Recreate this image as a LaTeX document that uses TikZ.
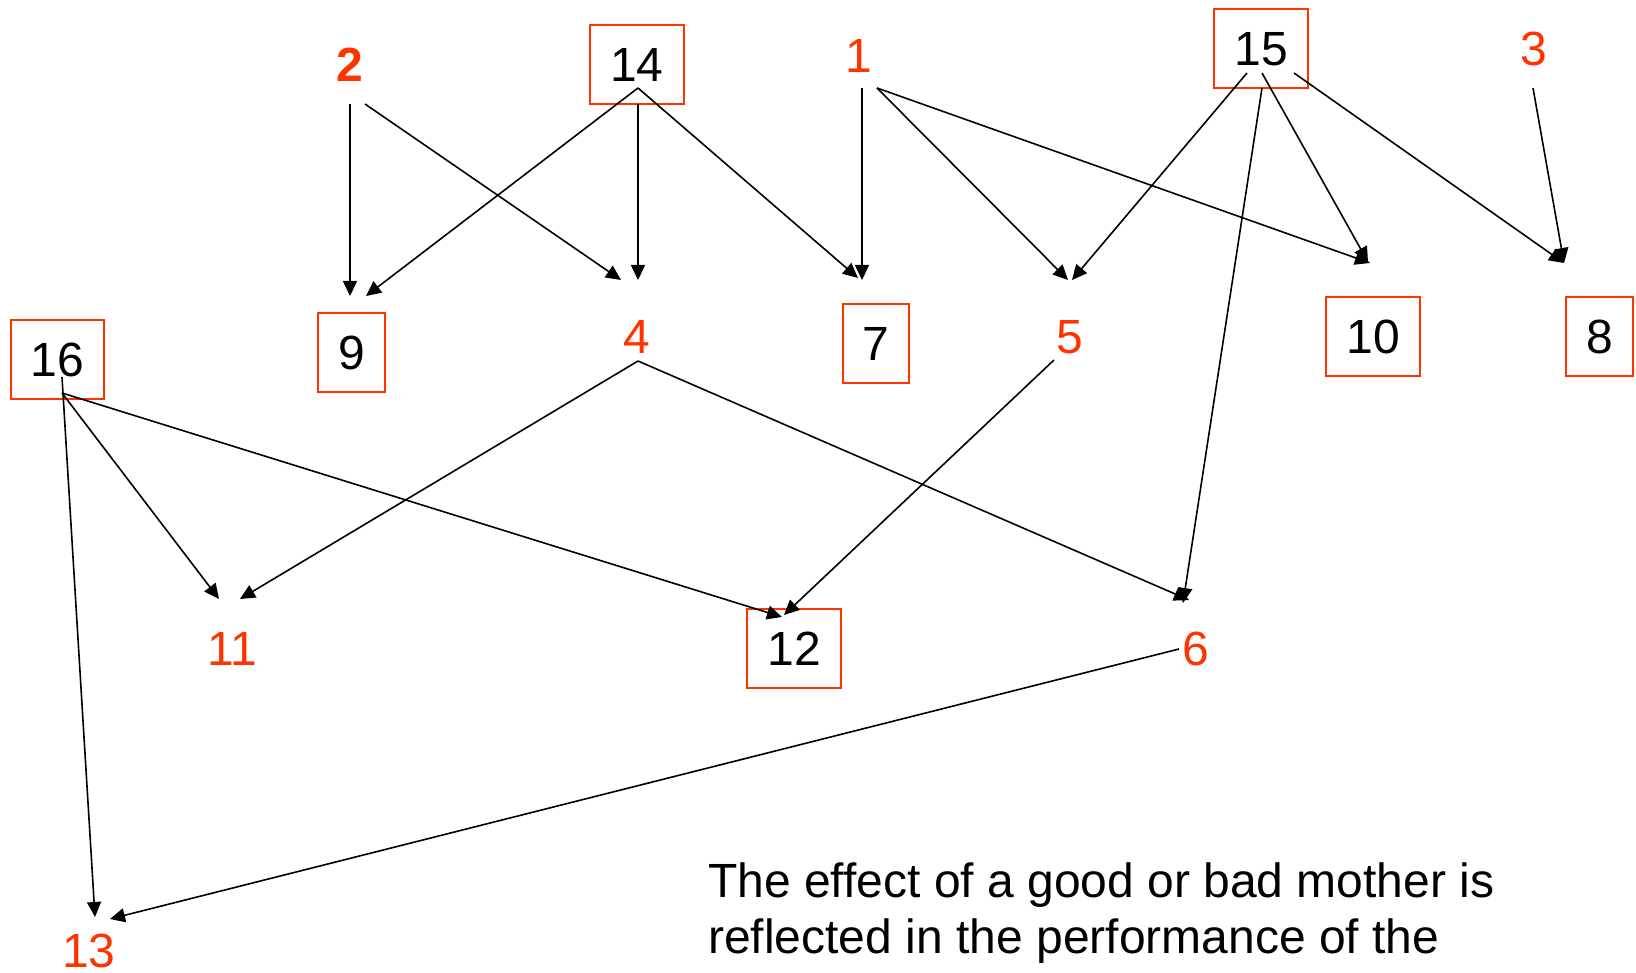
\documentclass[tikz,border=0pt]{standalone}
\usepackage{fontspec}
\setmainfont{Liberation Sans}
\usetikzlibrary{arrows.meta}
\definecolor{accent}{RGB}{255,51,0}
\begin{document}
\begin{tikzpicture}[x=1pt,y=-1pt,
  lbl/.style={font=\fontsize{48}{56}\selectfont, text height=34pt, text depth=0pt, inner sep=0pt},
  hot/.style={lbl, text=accent},
  boxed/.style={lbl, draw=accent, line width=2pt, inner xsep=20pt, inner ysep=22.5pt},
  link/.style={line width=1.6pt, -{Triangle[length=15pt,width=14pt]}}]
\useasboundingbox (0,0) rectangle (1636,973);

% top row
\node[hot, font=\fontsize{48}{56}\selectfont\bfseries] (n2) at (350,65) {2};
\node[boxed] (n14) at (637,64.5) {14};
\node[hot] (n1) at (859,56) {1};
\node[boxed] (n15) at (1261,48.5) {15};
\node[hot] (n3) at (1534,49) {3};

% middle row
\node[boxed] (n16) at (57.5,360) {16};
\node[boxed] (n9) at (351.5,352.5) {9};
\node[hot] (n4) at (637,337) {4};
\node[boxed] (n7) at (876,344) {7};
\node[hot] (n5) at (1070,337) {5};
\node[boxed] (n10) at (1373,336.5) {10};
\node[boxed] (n8) at (1599.5,336.5) {8};

% lower rows
\node[hot] (n11) at (232,648) {11};
\node[boxed] (n12) at (794,648) {12};
\node[hot] (n6) at (1196,648) {6};
\node[hot] (n13) at (89,950) {13};

% caption; its base anchor sits on the last line
\node[anchor=base west, align=left, inner sep=0pt, font=\fontsize{48}{56}\selectfont] (note) at (708,953)
  {The effect of a good or bad mother is\\reflected in the performance of the};

% connectors
\draw[link] ([shift={(0,39)}]n2.center) -- ([shift={(-1.5,-56.5)}]n9.center);
\draw[link] ([shift={(15,39)}]n2.center) -- ([shift={(-16,-57)}]n4.center);
\draw[link] ([shift={(1,23.5)}]n14.center) -- ([shift={(14.5,-56.5)}]n9.center);
\draw[link] ([shift={(1,39.5)}]n14.center) -- ([shift={(1,-57)}]n4.center);
\draw[link] ([shift={(1,23.5)}]n14.center) -- ([shift={(-18,-66)}]n7.center);
\draw[link] ([shift={(3,32)}]n1.center) -- ([shift={(-14,-64)}]n7.center);
\draw[link] ([shift={(18,32)}]n1.center) -- ([shift={(-2,-57)}]n5.center);
\draw[link] ([shift={(18,32)}]n1.center) -- ([shift={(-3,-73.5)}]n10.center);
\draw[link] ([shift={(-14,24.5)}]n15.center) -- ([shift={(2,-57)}]n5.center);
\draw[link] ([shift={(1,24.5)}]n15.center) -- ([shift={(-5,-74.5)}]n10.center);
\draw[link] ([shift={(33,24.5)}]n15.center) -- ([shift={(-35.5,-73.5)}]n8.center);
\draw[link] ([shift={(1,39.5)}]n15.center) -- ([shift={(-13,-45)}]n6.center);
\draw[link] ([shift={(-1,39)}]n3.center) -- ([shift={(-35.5,-73.5)}]n8.center);
\draw[link] ([shift={(1,24)}]n4.center) -- ([shift={(8,-49)}]n11.center);
\draw[link] ([shift={(1,24)}]n4.center) -- ([shift={(-7,-48)}]n6.center);
\draw[link] ([shift={(-16,23)}]n5.center) -- ([shift={(-10,-33)}]n12.center);
\draw[link] ([shift={(4.5,33)}]n16.center) -- ([shift={(-13,-49)}]n11.center);
\draw[link] ([shift={(4.5,33)}]n16.center) -- ([shift={(-12,-31)}]n12.center);
\draw[link] ([shift={(4.5,17)}]n16.center) -- ([shift={(6,-33)}]n13.center);
\draw[link] ([shift={(-17,1)}]n6.center) -- ([shift={(21,-31)}]n13.center);
\end{tikzpicture}
\end{document}
